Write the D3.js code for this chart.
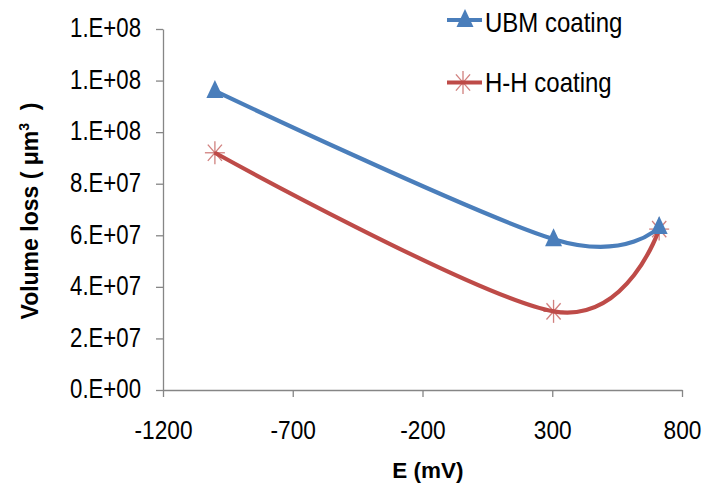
<!DOCTYPE html>
<html><head><meta charset="utf-8">
<script src="https://cdn.jsdelivr.net/npm/d3@7"></script>
<style>body{margin:0;background:#fff}svg{display:block}text{font-family:"Liberation Sans",Arial,sans-serif;fill:#000}</style>
</head><body><svg id="c" width="709" height="491"></svg>
<script>
const xValues = [-1000, 305, 712];
const ubmValues = [1.16e8, 5.85e7, 6.32e7];
const hhValues = [9.2e7, 3.05e7, 6.24e7];
const xTicks = [-1200, -700, -200, 300, 800];
const yTicks = [0, 2e7, 4e7, 6e7, 8e7, 1e8, 1.2e8, 1.4e8];
const yTickLabels = ["0.E+00","2.E+07","4.E+07","6.E+07","8.E+07","1.E+08","1.E+08","1.E+08"];
const seriesNames = ["UBM coating", "H-H coating"];
const colors = ["#4a7ebb", "#be4b48"];

const svg = d3.select("#c");
const x = d3.scaleLinear().domain([-1200, 800]).range([163, 682]);
const y = d3.scaleLinear().domain([0, 1.4e8]).range([390, 29]);

const yAxis = svg.append("g").attr("transform","translate(163,0)")
  .call(d3.axisLeft(y).tickValues(yTicks).tickFormat((d,i)=>yTickLabels[i]).tickSize(7).tickSizeOuter(0));
const xAxis = svg.append("g").attr("transform","translate(0,390)")
  .call(d3.axisBottom(x).tickValues(xTicks).tickFormat(d=>String(d)).tickSize(7).tickSizeOuter(0));
[yAxis, xAxis].forEach(a=>{
  a.select(".domain").attr("stroke","#868686").attr("stroke-width",1.3);
  a.selectAll(".tick line").attr("stroke","#868686").attr("stroke-width",1.3);
  a.selectAll(".tick text").attr("font-family","Liberation Sans, Arial, sans-serif").attr("fill","#000");
});
yAxis.selectAll(".tick text").attr("font-size",22.2).attr("x",-22).attr("y",-1.5).attr("dy","0.35em")
  .attr("transform","scale(1,1.25)");
xAxis.selectAll(".tick text").attr("font-size",22.7).attr("y",26.5).attr("dy","0.71em")
  .attr("transform","scale(1,1.15)");

// axis titles
svg.append("text").attr("transform","translate(38,211) rotate(-90)").attr("text-anchor","middle")
  .attr("font-size",23).attr("font-weight","bold")
  .html('Volume loss ( μm<tspan dy="-9" font-size="14">3</tspan><tspan dy="9" xml:space="preserve">  )</tspan>');
svg.append("text").attr("x",428).attr("y",478).attr("text-anchor","middle")
  .attr("font-size",22.5).attr("font-weight","bold").text("E (mV)");

const line = d3.line().x((d,i)=>x(xValues[i])).y(d=>y(d)).curve(d3.curveCatmullRom.alpha(0));
[ubmValues, hhValues].forEach((vals,k)=>{
  svg.append("path").datum(vals).attr("d",line).attr("fill","none")
    .attr("stroke",colors[k]).attr("stroke-width",4.2);
});

function triangle(g, cx, cy, col){
  g.append("path").attr("d","M0,-11L8.5,7L-8.5,7Z").attr("transform",`translate(${cx},${cy})`).attr("fill",col);
}
function star(g, cx, cy, col){
  const rx = 10, ry = 11.5;
  for (let a=0; a<180; a+=45){
    const rad = a*Math.PI/180;
    g.append("line").attr("x1",cx-rx*Math.cos(rad)).attr("y1",cy-ry*Math.sin(rad))
      .attr("x2",cx+rx*Math.cos(rad)).attr("y2",cy+ry*Math.sin(rad))
      .attr("stroke",col).attr("stroke-width",1.3).attr("opacity",0.7);
  }
}
const mk = svg.append("g");
hhValues.forEach((v,i)=>star(mk, x(xValues[i]), y(v), colors[1]));
ubmValues.forEach((v,i)=>triangle(mk, x(xValues[i]), y(v), colors[0]));

// legend
const lg = svg.append("g");
lg.append("line").attr("x1",447).attr("x2",482).attr("y1",20).attr("y2",20).attr("stroke",colors[0]).attr("stroke-width",4.2);
triangle(lg, 465, 20, colors[0]);
lg.append("text").attr("x",485).attr("y",31.7/1.16).attr("font-size",24).attr("transform","scale(1,1.16)").text(seriesNames[0]);
lg.append("line").attr("x1",447).attr("x2",482).attr("y1",82.5).attr("y2",82.5).attr("stroke",colors[1]).attr("stroke-width",4.2);
star(lg, 463, 82.5, colors[1]);
lg.append("text").attr("x",485).attr("y",91.7/1.16).attr("font-size",24).attr("transform","scale(1,1.16)").text(seriesNames[1]);
</script></body></html>
